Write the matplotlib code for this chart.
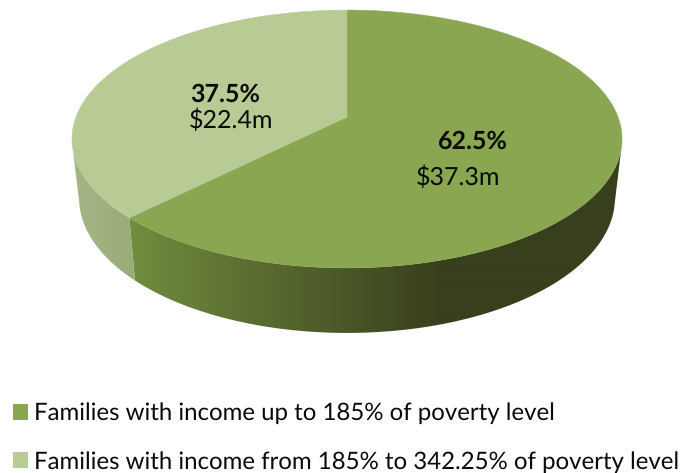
import numpy as np
import matplotlib
matplotlib.use("Agg")
import matplotlib.pyplot as plt
from matplotlib.patches import Polygon, Patch
from matplotlib.colors import to_rgb

plt.rcParams["text.hinting"] = "no_hinting"
plt.rcParams["text.hinting_factor"] = 1

categories = ["Families with income up to 185% of poverty level",
              "Families with income from 185% to 342.25% of poverty level"]
values = [37.3, 22.4]
share_labels = ["62.5%", "37.5%"]
money_labels = ["$37.3m", "$22.4m"]
top_colors = ["#8AA650", "#B9CB94"]
FONT = "Lato"
FS = 17.7
LEGEND_FS = 17.6

W, H = 689, 473
fig = plt.figure(figsize=(W / 100, H / 100), dpi=100)
ax = fig.add_axes([0, 0, 1, 1])
ax.set_xlim(0, W)
ax.set_ylim(H, 0)
ax.axis("off")

K = 0.1705  # perspective strength
CX = 347


def project(theta, cy, a, b):
    u, v = np.cos(theta), np.sin(theta)
    w = 1 + K * v
    return CX + b * u / w, cy - a * v / w


TOP = dict(cy=117, a=125.2, b=271)
BOT = dict(cy=175, a=131, b=264)

fracs = np.array(values) / sum(values)
edges = np.pi / 2 - 2 * np.pi * np.concatenate([[0], np.cumsum(fracs)])

gradients = [("#728C3E", "#383F1D", 130, 440), ("#A3B585", "#98AC76", 80, 135)]
xgrid = np.arange(0, W)

# side walls: a horizontal colour ramp clipped to each wall's outline
for i in range(2):
    c0, c1, x0, x1 = gradients[i]
    t = np.clip((xgrid - x0) / (x1 - x0), 0, 1)[None, :, None]
    ramp = np.array(to_rgb(c0))[None, None, :] * (1 - t) + np.array(to_rgb(c1))[None, None, :] * t
    th = np.linspace(edges[i], edges[i + 1], 400)
    th = th[np.sin(th) < -0.2]
    xt, yt = project(th, **TOP)
    xb, yb = project(th, **BOT)
    outline = np.column_stack([np.r_[xt, xb[::-1]], np.r_[yt, yb[::-1]]])
    wall = Polygon(outline, closed=True, facecolor="none", edgecolor="none", transform=ax.transData)
    ax.add_patch(wall)
    im = ax.imshow(ramp, extent=(0, W, H, 0), aspect="auto", zorder=1, interpolation="bilinear")
    im.set_clip_path(wall)
ax.set_xlim(0, W)
ax.set_ylim(H, 0)

# top faces
for i in range(2):
    th = np.linspace(edges[i], edges[i + 1], 300)
    xs, ys = project(th, **TOP)
    pts = np.column_stack([np.r_[CX, xs], np.r_[TOP["cy"], ys]])
    ax.add_patch(Polygon(pts, closed=True, facecolor=top_colors[i], edgecolor=top_colors[i], linewidth=0.3, zorder=2))

# labels
share_xy = [(473, 142), (225, 95)]
money_xy = [(458, 178), (231, 121)]
for i in range(2):
    ax.text(*share_xy[i], share_labels[i], ha="center", va="center", fontsize=FS,
            fontweight="bold", family=FONT, color="#0a0a0a", zorder=3)
    ax.text(*money_xy[i], money_labels[i], ha="center", va="center", fontsize=FS,
            family=FONT, color="#0a0a0a", zorder=3)

handles = [Patch(facecolor=c, edgecolor="none") for c in top_colors]
ax.legend(handles, categories, loc="lower left", bbox_to_anchor=(13 / W, 1 - 473 / H),
          bbox_transform=ax.transAxes, frameon=False, borderaxespad=0, borderpad=0,
          handlelength=0.62, handleheight=0.62, handletextpad=0.25, labelspacing=1.1,
          prop={"family": FONT, "size": LEGEND_FS}, labelcolor="#0a0a0a")

fig.savefig("out.png", dpi=100)
